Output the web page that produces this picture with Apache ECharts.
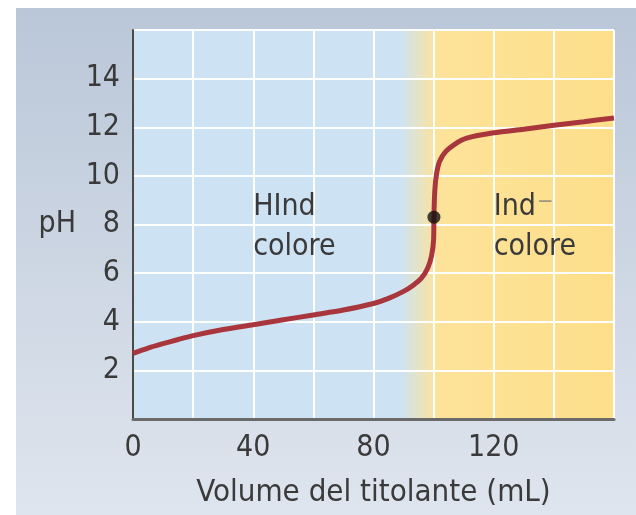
<!DOCTYPE html>
<html>
<head>
<meta charset="utf-8">
<script src="https://cdn.jsdelivr.net/npm/echarts@6/dist/echarts.min.js"></script>
<style>
html,body{margin:0;padding:0;background:#ffffff;}
#chart{width:636px;height:515px;}
</style>
</head>
<body>
<div id="chart"></div>
<script>
// Data
var volume = [0, 5, 10, 15, 20, 30, 40, 50, 60, 70, 80, 85, 90, 93, 96, 98, 99.3, 100, 100.1, 100.4, 101, 102, 104, 107, 111, 120, 130, 140, 150, 160];
var pH     = [2.7, 2.92, 3.1, 3.27, 3.43, 3.68, 3.88, 4.08, 4.28, 4.48, 4.75, 4.96, 5.25, 5.48, 5.8, 6.2, 6.7, 7.4, 8.3, 9.4, 10.1, 10.6, 11.0, 11.3, 11.55, 11.77, 11.92, 12.08, 12.23, 12.38];
var equivalencePoint = [100.1, 8.3];
var xTickLabels = [0, 40, 80, 120];
var yTickLabels = [2, 4, 6, 8, 10, 12, 14];
var regionLabels = [
  {x: 40, y: 9.55, text: 'HInd', sup: '', text2: 'colore'},
  {x: 120, y: 9.55, text: 'Ind', sup: '\u2212', text2: 'colore'}
];
var xAxisTitle = 'Volume del titolante (mL)';
var yAxisTitle = 'pH';

var FONT = '"DejaVu Sans Condensed", "DejaVu Sans", sans-serif';
var TXT = '#3a3a3a';

var chart = echarts.init(document.getElementById('chart'), null, {renderer: 'canvas'});

var curve = volume.map(function (v, i) { return [v, pH[i]]; });

var option = {
  animation: false,
  backgroundColor: '#ffffff',
  graphic: [{
    type: 'rect', z: -10, silent: true,
    shape: {x: 16, y: 8, width: 620, height: 507},
    style: {fill: new echarts.graphic.LinearGradient(0, 0, 0, 1, [
      {offset: 0, color: '#bac7d8'},
      {offset: 1, color: '#dfe5ee'}
    ])}
  }],
  grid: {
    left: 133, top: 30, right: 22, bottom: 96,
    show: true, borderWidth: 0,
    backgroundColor: new echarts.graphic.LinearGradient(0, 0, 1, 0, [
      {offset: 0, color: '#cde3f3'},
      {offset: 89 / 160, color: '#cde3f3'},
      {offset: 101 / 160, color: '#fde39a'},
      {offset: 1, color: '#fddf8a'}
    ])
  },
  xAxis: {
    type: 'value', min: 0, max: 160, interval: 20,
    name: xAxisTitle, nameLocation: 'middle', nameGap: 58,
    nameTextStyle: {fontFamily: FONT, fontSize: 31, color: TXT},
    axisLine: {show: true, lineStyle: {color: '#6a6a6a', width: 3}},
    axisTick: {show: false},
    axisLabel: {
      margin: 14, fontFamily: FONT, fontSize: 30, color: TXT,
      formatter: function (v) { return xTickLabels.indexOf(v) >= 0 ? String(v) : ''; }
    },
    splitLine: {show: true, lineStyle: {color: '#ffffff', width: 2}}
  },
  yAxis: {
    type: 'value', min: 0, max: 16, interval: 2,
    axisLine: {show: true, onZero: false, lineStyle: {color: '#4a4a4a', width: 2}},
    axisTick: {show: false},
    axisLabel: {
      margin: 13, fontFamily: FONT, fontSize: 30, color: TXT,
      formatter: function (v) { return yTickLabels.indexOf(v) >= 0 ? String(v) : ''; }
    },
    splitLine: {show: true, lineStyle: {color: '#ffffff', width: 2}}
  },
  series: [{
    type: 'line', data: curve, smooth: 0.3, symbol: 'none',
    lineStyle: {color: '#a8363c', width: 5}, z: 3
  }, {
    type: 'scatter', data: [equivalencePoint], symbolSize: 13,
    itemStyle: {color: '#111111'}, z: 4
  }]
};
chart.setOption(option);

var ctx = document.createElement('canvas').getContext('2d');
ctx.font = '30px ' + FONT;
var extra = [];
regionLabels.forEach(function (r) {
  var p = chart.convertToPixel({gridIndex: 0}, [r.x, r.y]);
  extra.push({
    type: 'text', x: p[0], y: p[1], z: 5, silent: true,
    style: {text: r.text + '\n' + r.text2, fontFamily: FONT, fontSize: 30, lineHeight: 40, fill: TXT, align: 'left', verticalAlign: 'top'}
  });
  if (r.sup) {
    var w = ctx.measureText(r.text).width;
    extra.push({
      type: 'text', x: p[0] + w + 1, y: p[1] + 4, z: 5, silent: true,
      style: {text: r.sup, fontFamily: FONT, fontSize: 22, fill: '#a39680', align: 'left', verticalAlign: 'top'}
    });
  }
});
var pp = chart.convertToPixel({gridIndex: 0}, [0, 8]);
extra.push({
  type: 'text', x: 76, y: pp[1], z: 5, silent: true,
  style: {text: yAxisTitle, fontFamily: FONT, fontSize: 30, fill: TXT, align: 'right', verticalAlign: 'middle'}
});
chart.setOption({graphic: option.graphic.concat(extra)});
</script>
</body>
</html>
